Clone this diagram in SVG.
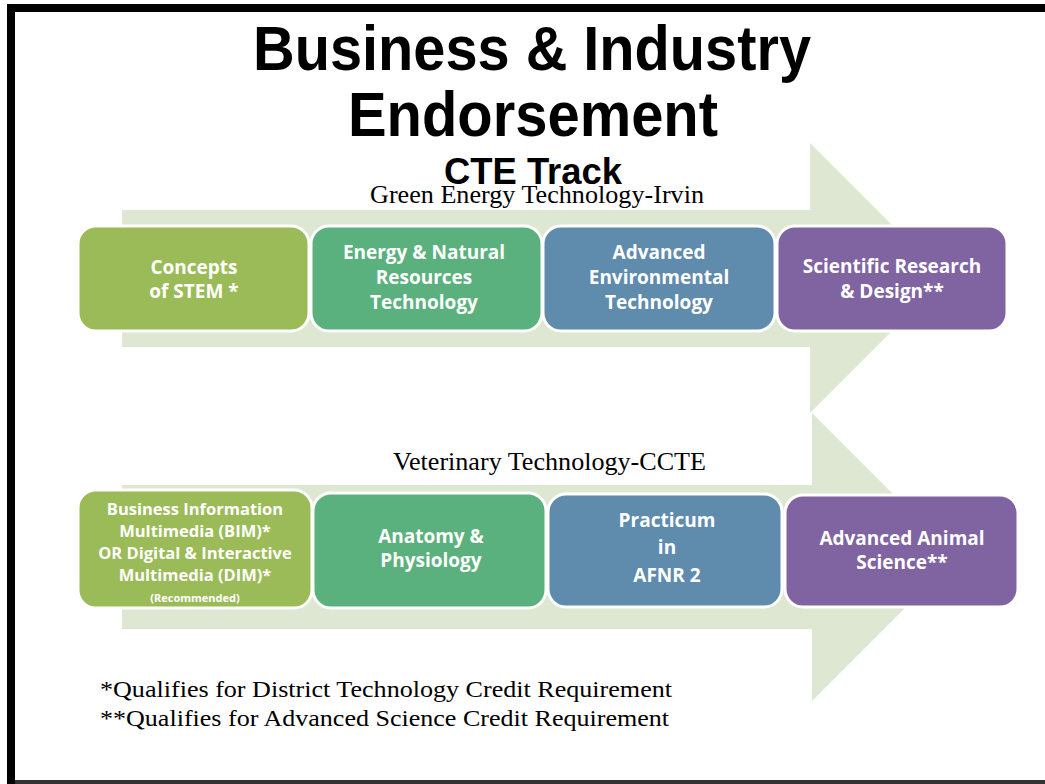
<svg xmlns="http://www.w3.org/2000/svg" width="1045" height="784" viewBox="0 0 1045 784">
<style>
.title{font-family:"Liberation Sans",Arial,sans-serif;font-weight:bold;fill:#000;text-anchor:middle}
.serif{font-family:"Liberation Serif","Times New Roman",serif;fill:#000}
.box{stroke:#fff;stroke-width:3}
.bt{font-family:"Open Sans","DejaVu Sans",sans-serif;font-weight:bold;fill:#fff;text-anchor:middle;font-size:19px}
.bs{font-size:16.5px}
.bxs{font-size:11px}
.arrow{fill:#DDE7D2}
</style>
<rect width="1045" height="784" fill="#fff"/>
<rect x="11" y="8" width="1200" height="900" fill="none" stroke="#000" stroke-width="8"/>
<rect x="15" y="780" width="1030" height="4" fill="#333"/>

<g id="titles">
<text class="title" x="532" y="70" font-size="63" textLength="558" lengthAdjust="spacingAndGlyphs">Business &amp; Industry</text>
<text class="title" x="533" y="136" font-size="63" textLength="370" lengthAdjust="spacingAndGlyphs">Endorsement</text>
<text class="title" x="533" y="184" font-size="36" textLength="178" lengthAdjust="spacingAndGlyphs">CTE Track</text>
</g>

<g id="arrows">
<polygon class="arrow" points="122,210 810,210 810,143 945,278 810,413 810,347 122,347"/>
<polygon class="arrow" points="122,485 812,485 812,413 956,557 812,701 812,629 122,629"/>
</g>

<text id="track1" class="serif" x="370" y="203" font-size="26" textLength="334" lengthAdjust="spacingAndGlyphs">Green Energy Technology-Irvin</text>
<text id="track2" class="serif" x="393" y="470" font-size="26" textLength="313" lengthAdjust="spacingAndGlyphs">Veterinary Technology-CCTE</text>

<g id="n1">
<rect class="box" x="78" y="226" width="231" height="105" rx="18" fill="#9BBB59"/>
<text class="bt" x="194" y="274">Concepts</text>
<text class="bt" x="194" y="298">of STEM *</text>
</g>
<g id="n2">
<rect class="box" x="311" y="226" width="231" height="105" rx="18" fill="#5BB17D"/>
<text class="bt" x="424" y="259">Energy &amp; Natural</text>
<text class="bt" x="424" y="284">Resources</text>
<text class="bt" x="424" y="309">Technology</text>
</g>
<g id="n3">
<rect class="box" x="543" y="226" width="232" height="105" rx="18" fill="#5F8BAD"/>
<text class="bt" x="659" y="259">Advanced</text>
<text class="bt" x="659" y="284">Environmental</text>
<text class="bt" x="659" y="309">Technology</text>
</g>
<g id="n4">
<rect class="box" x="777" y="226" width="230" height="105" rx="18" fill="#8064A2"/>
<text class="bt" x="892" y="273">Scientific Research</text>
<text class="bt" x="892" y="298">&amp; Design**</text>
</g>

<g id="n5">
<rect class="box" x="78" y="490" width="234" height="118" rx="18" fill="#9BBB59"/>
<text class="bt bs" x="195" y="515">Business Information</text>
<text class="bt bs" x="195" y="537">Multimedia (BIM)*</text>
<text class="bt bs" x="195" y="559">OR Digital &amp; Interactive</text>
<text class="bt bs" x="195" y="581">Multimedia (DIM)*</text>
<text class="bt bxs" x="195" y="602">(Recommended)</text>
</g>
<g id="n6">
<rect class="box" x="313" y="493" width="233" height="115" rx="18" fill="#5BB17D"/>
<text class="bt" x="431" y="543">Anatomy &amp;</text>
<text class="bt" x="431" y="567">Physiology</text>
</g>
<g id="n7">
<rect class="box" x="548" y="494" width="234" height="113" rx="18" fill="#5F8BAD"/>
<text class="bt" x="667" y="527">Practicum</text>
<text class="bt" x="667" y="554">in</text>
<text class="bt" x="667" y="582">AFNR 2</text>
</g>
<g id="n8">
<rect class="box" x="785" y="495" width="233" height="112" rx="18" fill="#8064A2"/>
<text class="bt" x="902" y="545">Advanced Animal</text>
<text class="bt" x="902" y="569">Science**</text>
</g>

<g id="notes">
<text class="serif" x="100" y="697" font-size="24" textLength="572" lengthAdjust="spacingAndGlyphs">*Qualifies for District Technology Credit Requirement</text>
<text class="serif" x="100" y="726" font-size="24" textLength="569" lengthAdjust="spacingAndGlyphs">**Qualifies for Advanced Science Credit Requirement</text>
</g>
</svg>
